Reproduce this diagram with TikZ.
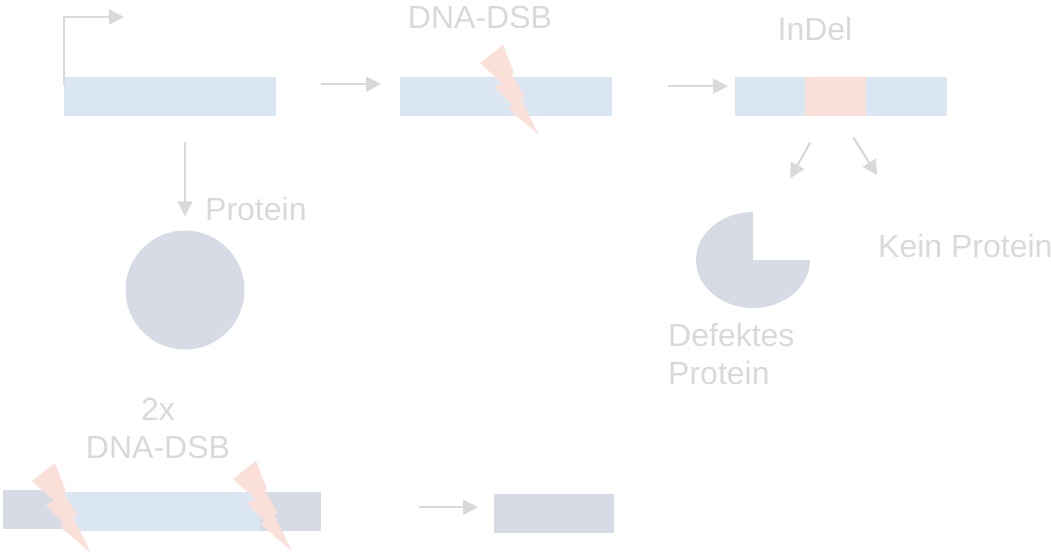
\documentclass[tikz,border=0pt]{standalone}
\usepackage{fontspec}
\setmainfont{Liberation Sans}
\usetikzlibrary{arrows.meta,positioning}

\definecolor{dnablue}{RGB}{218,231,243}
\definecolor{indelpink}{RGB}{251,224,218}
\definecolor{protgray}{RGB}{214,219,230}
\definecolor{softgray}{RGB}{217,217,217}

\tikzset{
  bolt/.pic = {
    \fill[indelpink] (23,0) -- (34,28) -- (31.5,29.5) -- (45,52) -- (41,54.5) -- (59,90)
      -- (28,63.5) -- (32,60) -- (14,42) -- (22,38) -- (0,18) -- cycle;
  }
}

\begin{document}
\begin{tikzpicture} [
    x=1pt, y=-1pt,
    bar/.style      = { rectangle, draw=none, fill=dnablue, inner sep=0pt,
                        minimum height=39pt, anchor=north west },
    txt/.style      = { text=softgray, inner sep=0pt,
                        font=\fontsize{32}{38}\selectfont },
    line/.style     = { draw=softgray, line width=2.2pt,
                        -{Triangle[length=15pt,width=15pt]} },
  ]
  \useasboundingbox (0,0) rectangle (1051,555);

  % Define the DNA strands
  \node[bar, minimum width=212pt] (gene) at (64,77) {};
  \node[bar, minimum width=212pt] (cut)  at (400,77) {};
  \node[bar, minimum width=212pt] (mut)  at (735,77) {};
  \node[bar, minimum width=61pt, fill=indelpink] (indel) at (805,77) {};

  \node[bar, minimum width=60pt,  fill=protgray] (endL)  at (3,490) {};
  \node[bar, minimum width=197pt] (gap)   at (63,492) {};
  \node[bar, minimum width=61pt,  fill=protgray] (endR)  at (260,492) {};
  \node[bar, minimum width=120pt, fill=protgray] (fused) at (494,494) {};

  % double strand breaks
  \pic at (480,45)  {bolt};
  \pic at (32,463)  {bolt};
  \pic at (233,461) {bolt};

  % proteins
  \node[circle, fill=protgray, inner sep=0pt, minimum size=119pt] (protein) at (185,290) {};
  \coordinate (defect) at (753,260);
  \fill[protgray] (defect) -- ++(57,0) arc[start angle=0, end angle=270,
    x radius=57, y radius=48] -- cycle;

  % labels
  \node[txt, anchor=base] (dsb) at (480,28) {DNA-DSB};
  \node[txt, anchor=base] (indelname) at (815,40) {InDel};
  \node[txt, anchor=base west] (protname) at (205,220) {Protein};
  \node[txt, anchor=base west] (noprot) at (878,257) {Kein Protein};
  \node[txt, anchor=north west, align=left] (defname) at (668,323) {Defektes\\Protein};
  \node[txt, anchor=north, align=center] (dsbtwo) at (158,398) {2x\\DNA-DSB};

  % connect the nodes
  \path [line] ([yshift=-8pt]gene.north west) -- ++(0,-68) -- ++(60,0);
  \path [line] ([shift={(45pt,12.5pt)}]gene.east) -- ([shift={(-19pt,12.5pt)}]cut.west);
  \path [line] ([shift={(56pt,10.5pt)}]cut.east) -- ([shift={(-7pt,10.5pt)}]mut.west);
  \path [line] ([yshift=-26pt]gene.south -| protein.north) -- ([yshift=14pt]protein.north);
  \path [line] ([shift={(-31pt,-26pt)}]mut.south) -- ++(-20,36);
  \path [line] ([shift={(12pt,-21pt)}]mut.south) -- ++(24,38);
  \path [line] ([shift={(98pt,4.5pt)}]endR.east) -- ([shift={(-16pt,6.5pt)}]fused.west);
\end{tikzpicture}
\end{document}
